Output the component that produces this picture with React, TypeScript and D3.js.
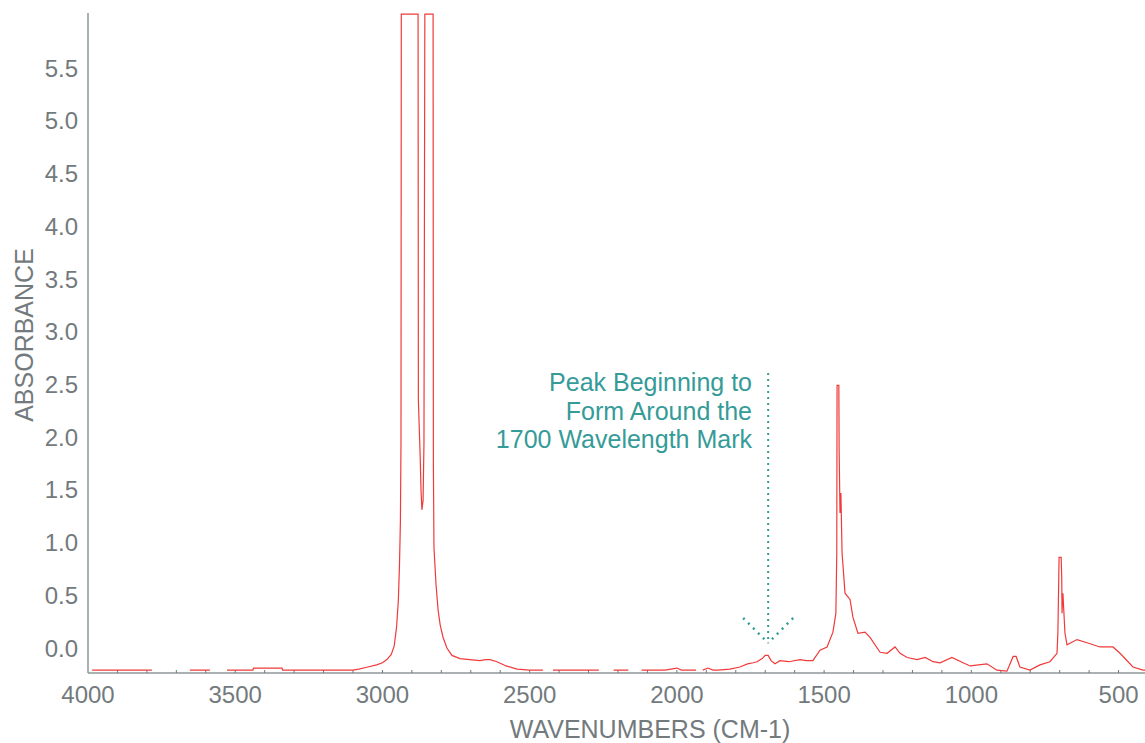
import React from "react";
import * as d3 from "d3";

// Spectrum (wavenumber cm-1, absorbance); null = gap in the drawn trace
const wavenumbers: number[] = [
  3986, 3783, 3780, 3654, 3586, 3584, 3528, 3440, 3438, 3341, 3339, 3100,
  3080, 3050, 3020, 3000, 2985, 2970, 2960, 2952, 2946, 2942, 2939, 2937, 2936,
  2879, 2878, 2872, 2869, 2866, 2862, 2859, 2856, 2828, 2827, 2825, 2818, 2811,
  2804, 2794, 2781, 2764, 2737, 2703, 2669, 2650, 2635, 2611, 2580, 2543, 2500,
  2455, 2440, 2421, 2265, 2240, 2215, 2165, 2140, 2120, 2040, 2000, 1985, 1935,
  1925, 1912, 1895, 1877, 1860, 1820, 1786, 1760, 1740, 1728, 1710, 1700, 1690,
  1680, 1667, 1650, 1620, 1582, 1560, 1538, 1514, 1490, 1470, 1460, 1457, 1456,
  1450, 1449, 1446, 1443, 1439, 1429, 1412, 1402, 1385, 1361, 1344, 1310, 1286,
  1259, 1242, 1218, 1184, 1157, 1130, 1106, 1066, 1028, 1004, 947, 913, 879,
  858, 848, 835, 801, 767, 733, 709, 706, 702, 695, 693, 692, 689, 682, 675,
  641, 607, 563, 519, 495, 451, 417, 400,
];
const absorbance: (number | null)[] = [
  -0.21, -0.21, null, -0.21, -0.21, null, -0.21, -0.21, -0.19, -0.19, -0.21, -0.21,
  -0.2, -0.18, -0.16, -0.14, -0.11, -0.06, 0.02, 0.2, 0.45, 0.8, 1.2, 1.95, 6.01,
  6.01, 2.35, 1.83, 1.5, 1.31, 1.4, 1.94, 6.01, 6.01, 1.73, 0.95, 0.6, 0.36,
  0.22, 0.1, 0.0, -0.07, -0.1, -0.11, -0.12, -0.11, -0.11, -0.13, -0.17, -0.2, -0.21,
  -0.21, null, -0.21, -0.21, null, -0.21, -0.21, null, -0.21, -0.21, -0.19, -0.21, -0.21,
  null, -0.21, -0.19, -0.21, -0.21, -0.2, -0.18, -0.15, -0.14, -0.13, -0.1, -0.07, -0.07,
  -0.12, -0.15, -0.12, -0.13, -0.11, -0.12, -0.12, -0.02, 0.01, 0.15, 0.33, 0.9, 2.49,
  2.49, 1.88, 1.28, 1.47, 0.9, 0.52, 0.46, 0.29, 0.14, 0.15, 0.1, -0.04, -0.05,
  0.01, -0.05, -0.09, -0.11, -0.09, -0.13, -0.14, -0.09, -0.14, -0.17, -0.15, -0.21, -0.22,
  -0.08, -0.08, -0.18, -0.21, -0.16, -0.13, -0.05, 0.15, 0.86, 0.86, 0.67, 0.33, 0.52, 0.14, 0.03,
  0.08, 0.05, 0.01, 0.01, -0.05, -0.18, -0.21, -0.21,
];

const xTicks: number[] = [4000, 3500, 3000, 2500, 2000, 1500, 1000, 500];
const xMinorTicks: number[] = d3.range(3900, 400, -100);
const yTicks: number[] = [0, 0.5, 1, 1.5, 2, 2.5, 3, 3.5, 4, 4.5, 5, 5.5];
const annotationLines: string[] = ["Peak Beginning to", "Form Around the", "1700 Wavelength Mark"];
const annotationWavenumber = 1690;
const xTitle = "WAVENUMBERS (CM-1)";
const yTitle = "ABSORBANCE";

const W = 1145;
const H = 743;
const left = 88;
const right = 1148;
const top = 11;
const bottom = 673;

export default function App() {
  const x = d3.scaleLinear().domain([4000, 400]).range([left, right]);
  const y = d3.scaleLinear().domain([-0.237, 6.04]).range([bottom, top]);

  const pts = wavenumbers.map((w, i) => ({ w, a: absorbance[i] }));
  const line = d3
    .line<{ w: number; a: number | null }>()
    .defined((d) => d.a !== null)
    .x((d) => x(d.w))
    .y((d) => y(d.a as number));

  const font = "'Liberation Sans', Arial, Helvetica, sans-serif";
  const axisColor = "#8d979a";
  const textColor = "#737a7d";
  const teal = "#359b98";
  const ax = x(annotationWavenumber);
  const tipY = 643;

  return (
    <svg
      width={W}
      height={H}
      style={{ position: "absolute", left: 0, top: 0, background: "#fff" }}
      fontFamily={font}
    >
      <defs>
        <clipPath id="plot">
          <rect x={left} y={top} width={W - left} height={bottom - top} />
        </clipPath>
      </defs>

      {/* axes */}
      <line x1={left} x2={left} y1={13} y2={bottom} stroke={axisColor} strokeWidth={1.5} />
      <line x1={left} x2={W} y1={bottom} y2={bottom} stroke={axisColor} strokeWidth={1.5} />
      {xMinorTicks.map((t) => (
        <line key={t} x1={x(t)} x2={x(t)} y1={bottom} y2={bottom - 3} stroke="#6f777a" strokeWidth={1} />
      ))}
      {xTicks.map((t) => (
        <text key={t} x={x(t)} y={703} textAnchor="middle" fontSize={24} fill={textColor}>
          {t}
        </text>
      ))}
      {yTicks.map((t) => (
        <text key={t} x={78} y={y(t)} dy="0.36em" textAnchor="end" fontSize={24} fill={textColor}>
          {d3.format(".1f")(t)}
        </text>
      ))}
      <text x={650} y={738} textAnchor="middle" fontSize={25} fill={textColor}>
        {xTitle}
      </text>
      <text
        transform={`translate(33,335) rotate(-90)`}
        textAnchor="middle"
        fontSize={25}
        fill={textColor}
      >
        {yTitle}
      </text>

      {/* spectrum */}
      <path
        d={line(pts as any) || ""}
        fill="none"
        stroke="#f03a3a"
        strokeWidth={1.2}
        clipPath="url(#plot)"
      />

      {/* annotation */}
      {annotationLines.map((s, i) => (
        <text key={i} x={752} y={391 + i * 28.5} textAnchor="end" fontSize={25} fill={teal}>
          {s}
        </text>
      ))}
      <line x1={ax} x2={ax} y1={373} y2={tipY} stroke={teal} strokeWidth={2} strokeDasharray="2,4" />
      <line x1={ax - 25} x2={ax} y1={tipY - 25} y2={tipY} stroke={teal} strokeWidth={2.5} strokeDasharray="2,5" />
      <line x1={ax + 25} x2={ax} y1={tipY - 25} y2={tipY} stroke={teal} strokeWidth={2.5} strokeDasharray="2,5" />
    </svg>
  );
}
